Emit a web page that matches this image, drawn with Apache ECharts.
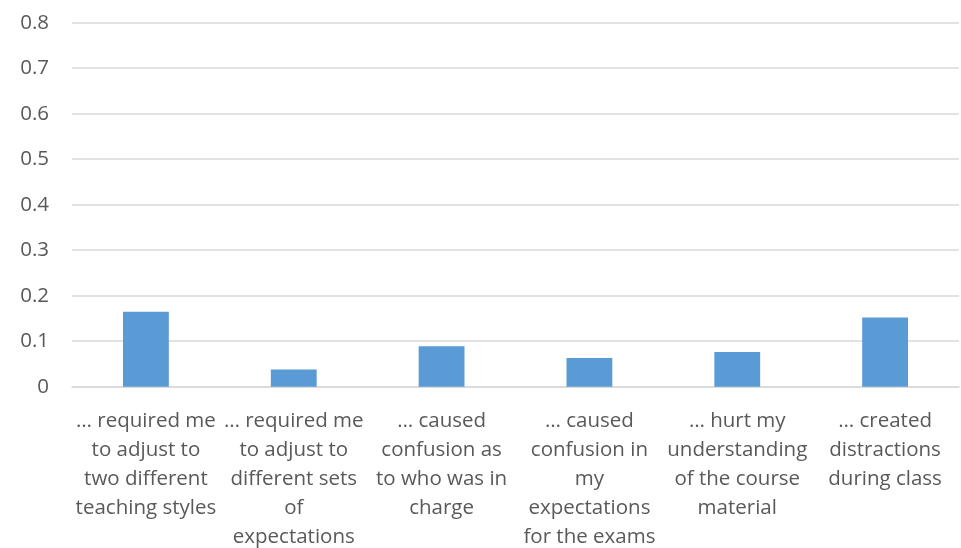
<!DOCTYPE html>
<html>
<head>
<meta charset="utf-8">
<script src="https://cdn.jsdelivr.net/npm/echarts@6/dist/echarts.min.js"></script>
<style>html,body{margin:0;padding:0;background:#fff}#c{width:961px;height:548px}</style>
</head>
<body>
<div id="c"></div>
<script>
var categories = [
  "… required me\nto adjust to\ntwo different\nteaching styles",
  "… required me\nto adjust to\ndifferent sets\nof\nexpectations",
  "… caused\nconfusion as\nto who was in\ncharge",
  "… caused\nconfusion in\nmy\nexpectations\nfor the exams",
  "… hurt my\nunderstanding\nof the course\nmaterial",
  "… created\ndistractions\nduring class"
];
var values = [0.165, 0.038, 0.089, 0.063, 0.076, 0.152];
var yTicks = [0, 0.1, 0.2, 0.3, 0.4, 0.5, 0.6, 0.7, 0.8];

var chart = echarts.init(document.getElementById('c'), null, {renderer: 'canvas'});
chart.setOption({
  animation: false,
  backgroundColor: '#ffffff',
  grid: {left: 72, right: 2, top: 22.7, bottom: 161.3, containLabel: false, outerBoundsMode: 'none'},
  xAxis: {
    type: 'category',
    data: categories,
    axisLine: {show: true, lineStyle: {color: '#d9d9d9', width: 1.5}},
    axisTick: {show: false},
    axisLabel: {
      interval: 0,
      color: '#595959',
      fontFamily: 'Open Sans',
      fontSize: 20.5,
      lineHeight: 29,
      margin: 20,
      align: 'center'
    }
  },
  yAxis: {
    type: 'value',
    min: yTicks[0],
    max: yTicks[yTicks.length - 1],
    interval: 0.1,
    axisLine: {show: false},
    axisTick: {show: false},
    splitLine: {lineStyle: {color: '#d9d9d9', width: 1.5}},
    axisLabel: {
      color: '#595959',
      fontFamily: 'Open Sans',
      fontSize: 20.5,
      margin: 23,
      formatter: function (v) { return String(Math.round(v * 10) / 10); }
    }
  },
  series: [{
    type: 'bar',
    data: values,
    barWidth: '31%',
    itemStyle: {color: '#5b9bd5'}
  }]
});
</script>
</body>
</html>
